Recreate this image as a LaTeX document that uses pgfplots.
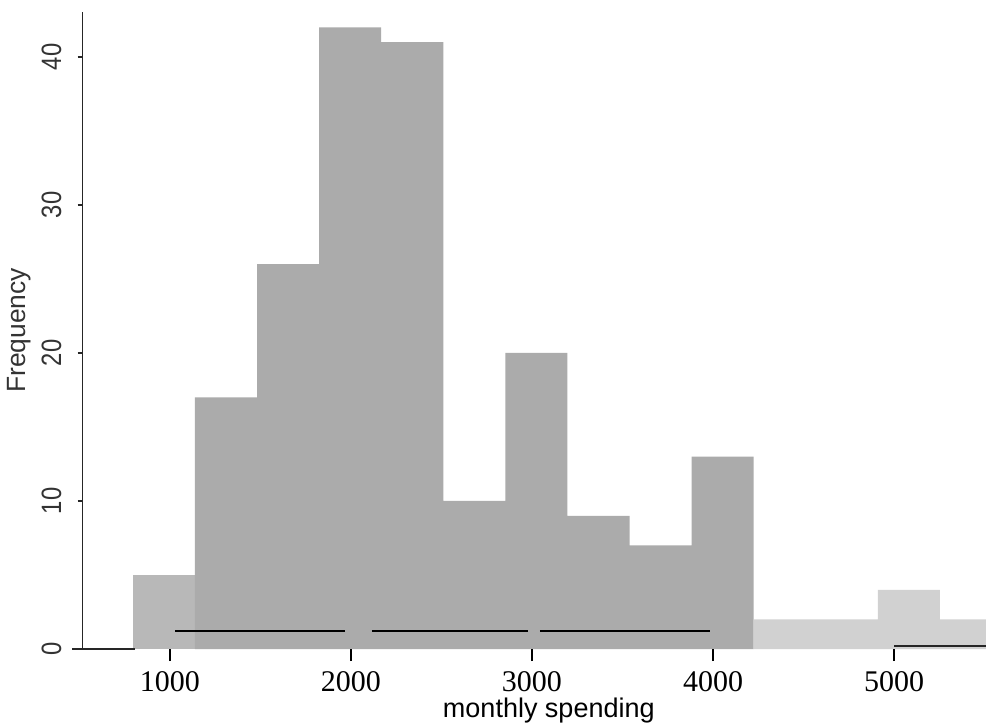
\documentclass[border=0pt]{standalone}
\usepackage{fontspec}
\setmainfont{Liberation Serif}
\newfontfamily\sans{Liberation Sans}
\usepackage{pgfplots}
\pgfplotsset{compat=1.18}
\definecolor{barA}{gray}{0.72}
\definecolor{barB}{gray}{0.67}
\definecolor{barC}{gray}{0.82}
\begin{document}
\begin{tikzpicture}
\begin{axis}[
  name=ax,
  at={(0,0)}, anchor=south west,
  scale only axis,
  width=451.65pt, height=318.5pt,
  xmin=517.7, xmax=5508.3, ymin=0, ymax=43.04,
  clip=false,
  axis x line=none,
  axis y line*=left,
  y axis line style={line width=0.7pt, black!85},
  ytick={0,10,20,30,40},
  tick align=outside,
  major tick length=2.5pt,
  ytick style={line width=0.6pt, black!85},
  yticklabel={\scalebox{0.85}[1]{\pgfmathprintnumber{\tick}}},
  yticklabel style={rotate=90, anchor=south, font=\sans\fontsize{14}{14}\selectfont, text=black!80, inner sep=0pt},
  yticklabel shift=8pt,
  /pgf/number format/assume math mode=true,
  ylabel={Frequency},
  ylabel style={at={(rel axis cs:-0.0705,0.5)}, anchor=center, font=\sans\fontsize{13.2}{14}\selectfont, text=black!80},
]
% histogram bars (left edges, counts; last point gives the right edge)
\addplot[ybar interval, fill=barA, draw=none, forget plot] coordinates {(795,5) (1138,5)};
\addplot[ybar interval, fill=barB, draw=none, forget plot] coordinates {
  (1138,17) (1481,26) (1824,42) (2167,41) (2510,10) (2853,20)
  (3196,9) (3539,7) (3882,13) (4225,13)};
\addplot[ybar interval, fill=barC, draw=none, forget plot] coordinates {
  (4225,2) (4568,2) (4911,4) (5254,2) (5508,2)};
% thin black segments near the bottom of the bars
\addplot[black, line width=0.6pt, forget plot] coordinates {(1028,1.22) (1967,1.22)};
\addplot[black, line width=0.6pt, forget plot] coordinates {(2116,1.22) (2978,1.22)};
\addplot[black, line width=0.6pt, forget plot] coordinates {(3044,1.22) (3983,1.22)};
\end{axis}
\begin{axis}[
  at={(0,0)}, anchor=south west,
  scale only axis,
  width=451.65pt, height=318.5pt,
  xmin=517.7, xmax=5508.3, ymin=0, ymax=43.04,
  axis y line=none,
  axis x line*=bottom,
  x axis line style={draw=none},
  xtick={1000,2000,3000,4000,5000},
  scaled x ticks=false,
  tick align=outside,
  major tick length=6pt,
  xtick style={draw=black, line width=0.7pt},
  /pgf/number format/1000 sep={},
  /pgf/number format/assume math mode=true,
  xticklabel shift=0pt,
  xticklabel style={font=\fontsize{15}{15}\selectfont, anchor=center, inner sep=0pt, yshift=-10.5pt},
  xlabel={monthly spending},
  xlabel style={at={(rel axis cs:0.516,-0.097)}, anchor=center, inner sep=0pt, font=\sans\fontsize{13.5}{14}\selectfont},
]
\addplot[draw=none, forget plot] coordinates {(1000,0) (5000,0)};
\end{axis}
% baseline pieces
\draw[line width=0.7pt, black!85] (-5.35pt,0pt) -- (26.15pt,0pt);
\draw[line width=0.7pt, black!85] (405.65pt,1.5pt) -- (451.65pt,1.5pt);
\pgfresetboundingbox
\path (-41.35pt,-37pt) rectangle (451.65pt,324.5pt);
\end{tikzpicture}
\end{document}
